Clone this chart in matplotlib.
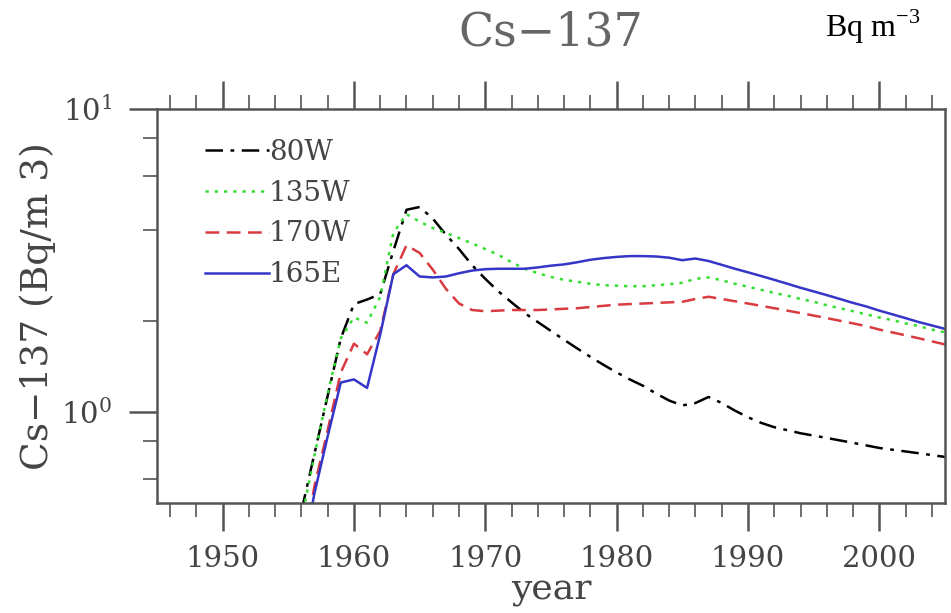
import matplotlib
matplotlib.use("Agg")
import matplotlib.pyplot as plt
import matplotlib.ticker as ticker

years = list(range(1956, 2006))

cs_80w = [0.47, 0.73, 1.13, 1.75, 2.27, 2.35, 2.45, 3.4, 4.65, 4.75,
          4.35, 3.85, 3.45, 3.05, 2.75, 2.5, 2.3, 2.12, 1.98, 1.85,
          1.73, 1.62, 1.52, 1.43, 1.35, 1.28, 1.22, 1.15, 1.09, 1.05,
          1.07, 1.12, 1.07, 1.01, 0.96, 0.92, 0.89, 0.87, 0.85, 0.835,
          0.82, 0.805, 0.79, 0.775, 0.76, 0.75, 0.74, 0.73, 0.72, 0.71]

cs_135w = [0.44, 0.72, 1.15, 1.75, 2.05, 1.97, 2.4, 3.9, 4.5, 4.25,
           4.05, 3.9, 3.75, 3.6, 3.45, 3.3, 3.12, 2.97, 2.87, 2.79,
           2.73, 2.69, 2.65, 2.62, 2.61, 2.6, 2.6, 2.62, 2.64, 2.67,
           2.75, 2.78, 2.72, 2.65, 2.59, 2.53, 2.47, 2.42, 2.36, 2.31,
           2.25, 2.2, 2.15, 2.1, 2.05, 2.01, 1.96, 1.92, 1.87, 1.83]

cs_170w = [0.33, 0.57, 0.87, 1.35, 1.68, 1.55, 1.85, 2.85, 3.55, 3.35,
           2.95, 2.55, 2.28, 2.17, 2.15, 2.16, 2.17, 2.17, 2.17, 2.18,
           2.19, 2.2, 2.22, 2.24, 2.26, 2.27, 2.28, 2.29, 2.3, 2.31,
           2.36, 2.4, 2.36, 2.32, 2.28, 2.24, 2.2, 2.16, 2.12, 2.08,
           2.04, 2.0, 1.96, 1.92, 1.87, 1.83, 1.79, 1.75, 1.71, 1.67]

cs_165e = [0.32, 0.54, 0.83, 1.25, 1.28, 1.2, 1.8, 2.85, 3.05, 2.8,
           2.78, 2.8, 2.87, 2.93, 2.96, 2.97, 2.97, 2.97, 3.0, 3.04,
           3.07, 3.12, 3.18, 3.22, 3.25, 3.27, 3.27, 3.26, 3.23, 3.17,
           3.21, 3.15, 3.06, 2.97, 2.89, 2.81, 2.73, 2.65, 2.57, 2.5,
           2.43, 2.36, 2.29, 2.23, 2.16, 2.1, 2.04, 1.98, 1.93, 1.88]

labels = ["80W", "135W", "170W", "165E"]

plt.rcParams['font.family'] = ['DejaVu Serif']
fig = plt.figure(figsize=(9.51, 6.13), dpi=100)
ax = fig.add_axes([0.165, 0.1794, 0.8287, 0.6426])

lw = 1.8
ax.plot(years, cs_80w, color='black', lw=lw, linestyle=(0, (7, 3, 1.5, 3)), label=labels[0])
ax.plot(years, cs_135w, color='#33dd33', lw=lw, linestyle=(0, (1.3, 2.4)), label=labels[1])
ax.plot(years, cs_170w, color='#d93a40', lw=lw, linestyle=(0, (5.5, 3)), label=labels[2])
ax.plot(years, cs_165e, color='#3535c8', lw=lw, linestyle='-', label=labels[3])

ax.set_yscale('log')
ax.set_xlim(1945, 2005)
ax.set_ylim(0.5, 10)

ax.set_xticks([1950, 1960, 1970, 1980, 1990, 2000])
ax.xaxis.set_minor_locator(ticker.MultipleLocator(2))
ax.yaxis.set_major_locator(ticker.LogLocator(base=10, numticks=5))
ax.yaxis.set_minor_locator(ticker.FixedLocator([0.6, 0.8, 2, 4, 6, 8]))
ax.yaxis.set_minor_formatter(ticker.NullFormatter())

tc = '#444444'
ax.tick_params(axis='both', which='major', direction='out', length=20, width=1.8,
               colors='#555555', labelcolor=tc, labelsize=21)
ax.tick_params(axis='both', which='minor', direction='out', length=10, width=1.2,
               colors='#555555')
ax.tick_params(axis='x', which='both', top=True, pad=10)
ax.tick_params(axis='y', which='both', right=False, pad=12)
for s in ax.spines.values():
    s.set_linewidth(1.8)
    s.set_color('#555555')

ax.set_xlabel('year', fontsize=26, color=tc, labelpad=0)
ax.set_ylabel('Cs\u2212137 (Bq/m 3)', fontsize=27, color=tc, labelpad=4)
ax.set_title('Cs\u2212137', fontsize=33, color='#666666', pad=46)

fig.text(0.867, 0.957, r'Bq m$^{\mathregular{-3}}$', fontsize=23, family='Liberation Serif',
         ha='left', va='center', color='black')

ax.legend(loc='upper left', bbox_to_anchor=(0.061, 0.925), frameon=False,
          fontsize=20, handlelength=2.3, handletextpad=0.0, labelspacing=0.5,
          borderaxespad=0, borderpad=0, labelcolor=tc)

fig.savefig('out.png', dpi=100)
